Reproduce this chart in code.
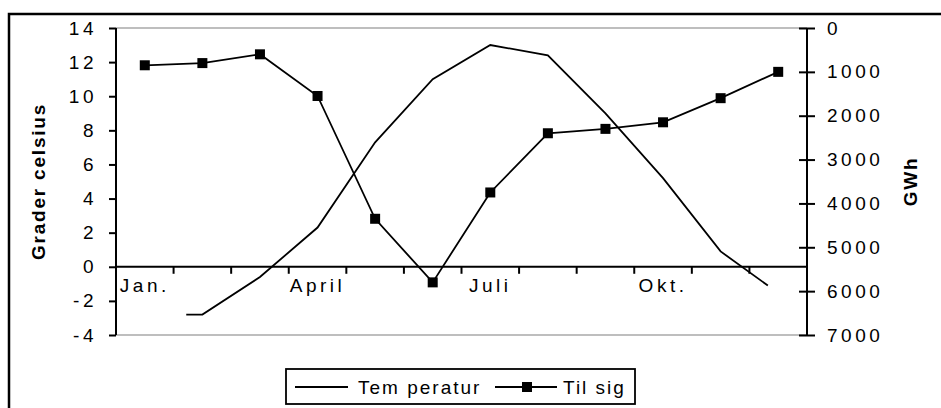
<!DOCTYPE html>
<html lang="da">
  <head>
    <meta charset="utf-8" />
    <script src="https://d3js.org/d3.v7.min.js" charset="utf-8"></script>
  </head>

  <style>
    body {
      margin: 0;
      background: #fff;
      font-family: 'Liberation Sans', Arial, sans-serif;
    }
    .tick text {
      font-size: 19px;
      letter-spacing: 3.5px;
      fill: #000;
    }
    .axis-title {
      font-size: 19px;
      font-weight: bold;
      letter-spacing: 1.8px;
    }
    .legend text {
      font-size: 19px;
      letter-spacing: 2px;
    }
  </style>

  <body>
    <div id="plot-container"></div>

    <script type="text/javascript">
      // data //-------------------------------------------------------

      var months = ['Jan.', 'Feb.', 'Mar.', 'April', 'Maj', 'Juni', 'Juli', 'Aug.', 'Sep.', 'Okt.', 'Nov.', 'Dec.'];
      var month_labels = ['Jan.', 'April', 'Juli', 'Okt.'];

      // tilsig, GWh (right axis, reversed)
      var tilsig = [850, 800, 600, 1550, 4350, 5800, 3750, 2400, 2300, 2150, 1600, 1000];

      // temperature, position in months from start of January
      var temp_pos = [1.22, 1.5, 2.5, 3.5, 4.5, 5.5, 6.5, 7.5, 8.5, 9.5, 10.5, 11.32];
      var temp_val = [-2.8, -2.8, -0.6, 2.3, 7.3, 11.0, 13.0, 12.4, 9.0, 5.2, 0.9, -1.1];

      var left_ticks = [-4, -2, 0, 2, 4, 6, 8, 10, 12, 14];
      var right_ticks = [0, 1000, 2000, 3000, 4000, 5000, 6000, 7000];

      // layout //-----------------------------------------------------
      var W = 941, H = 408;
      var plot_box = { left: 116, right: 807, top: 28, bottom: 335 };

      var svg = d3
        .select('#plot-container')
        .append('svg')
        .attr('width', W)
        .attr('height', H);

      // outer frame
      svg
        .append('rect')
        .attr('x', 9)
        .attr('y', 14)
        .attr('width', W)
        .attr('height', H)
        .attr('fill', 'none')
        .attr('stroke', '#000')
        .attr('stroke-width', 2.5);

      // scales
      var x_band = d3
        .scaleBand()
        .domain(months)
        .range([plot_box.left, plot_box.right])
        .padding(0);
      var x_pos = d3
        .scaleLinear()
        .domain([0, months.length])
        .range([plot_box.left, plot_box.right]);
      var y_left = d3
        .scaleLinear()
        .domain([-4, 14])
        .range([plot_box.bottom, plot_box.top]);
      var y_right = d3
        .scaleLinear()
        .domain([0, 7000])
        .range([plot_box.top, plot_box.bottom]);

      // plot area top / bottom grey edges
      svg
        .append('g')
        .selectAll('line')
        .data([plot_box.top, plot_box.bottom])
        .join('line')
        .attr('x1', plot_box.left)
        .attr('x2', plot_box.right)
        .attr('y1', (d) => d)
        .attr('y2', (d) => d)
        .attr('stroke', '#a8a8a8')
        .attr('stroke-width', 1.5);

      // left axis
      var g_left = svg
        .append('g')
        .attr('transform', 'translate(' + plot_box.left + ',0)')
        .call(
          d3
            .axisLeft(y_left)
            .tickValues(left_ticks)
            .tickSize(7)
            .tickPadding(12)
            .tickFormat((d) => String(d))
        );
      g_left.selectAll('line, path').attr('stroke', '#000').attr('stroke-width', 2);
      g_left.select('.domain').attr('d', 'M0,' + plot_box.top + 'V' + plot_box.bottom);
      g_left.selectAll('.tick text').attr('font-family', null).attr('font-size', null);

      // right axis (ticks cross the line)
      var g_right = svg
        .append('g')
        .attr('transform', 'translate(' + plot_box.right + ',0)')
        .call(
          d3
            .axisRight(y_right)
            .tickValues(right_ticks)
            .tickSize(8)
            .tickPadding(12)
            .tickFormat((d) => String(d))
        );
      g_right.selectAll('.tick line').attr('x1', -8);
      g_right.selectAll('line, path').attr('stroke', '#000').attr('stroke-width', 2);
      g_right.select('.domain').attr('d', 'M0,' + plot_box.top + 'V' + plot_box.bottom);
      g_right.selectAll('.tick text').attr('font-family', null).attr('font-size', null);

      // category axis on the zero line
      var zero_y = y_left(0);
      var g_x = svg
        .append('g')
        .attr('transform', 'translate(0,' + zero_y + ')');
      g_x
        .append('line')
        .attr('x1', plot_box.left)
        .attr('x2', plot_box.right)
        .attr('stroke', '#000')
        .attr('stroke-width', 2);
      g_x
        .selectAll('.xtick')
        .data(months)
        .join('line')
        .attr('class', 'xtick')
        .attr('x1', (d) => x_band(d) + x_band.bandwidth())
        .attr('x2', (d) => x_band(d) + x_band.bandwidth())
        .attr('y1', 0)
        .attr('y2', 7)
        .attr('stroke', '#000')
        .attr('stroke-width', 2);
      g_x
        .selectAll('.tick')
        .data(month_labels)
        .join('g')
        .attr('class', 'tick')
        .append('text')
        .attr('x', (d) => x_band(d) + x_band.bandwidth() / 2)
        .attr('y', 25)
        .attr('text-anchor', 'middle')
        .text((d) => d);

      // axis titles
      svg
        .append('text')
        .attr('class', 'axis-title')
        .attr('transform', 'translate(45,' + (plot_box.top + plot_box.bottom) / 2 + ') rotate(-90)')
        .attr('text-anchor', 'middle')
        .text('Grader celsius');
      svg
        .append('text')
        .attr('class', 'axis-title')
        .attr('transform', 'translate(917,' + (plot_box.top + plot_box.bottom) / 2 + ') rotate(-90)')
        .attr('text-anchor', 'middle')
        .text('GWh');

      // temperature line
      var temp_data = temp_pos.map((p, i) => ({ p: p, v: temp_val[i] }));
      svg
        .append('path')
        .datum(temp_data)
        .attr('fill', 'none')
        .attr('stroke', '#000')
        .attr('stroke-width', 1.8)
        .attr(
          'd',
          d3
            .line()
            .x((d) => x_pos(d.p))
            .y((d) => y_left(d.v))
        );

      // tilsig line + markers
      var tilsig_data = months.map((m, i) => ({ m: m, v: tilsig[i] }));
      var tx = (d) => x_band(d.m) + x_band.bandwidth() / 2;
      svg
        .append('path')
        .datum(tilsig_data)
        .attr('fill', 'none')
        .attr('stroke', '#000')
        .attr('stroke-width', 1.8)
        .attr(
          'd',
          d3
            .line()
            .x(tx)
            .y((d) => y_right(d.v))
        );
      svg
        .append('g')
        .selectAll('rect')
        .data(tilsig_data)
        .join('rect')
        .attr('x', (d) => tx(d) - 5)
        .attr('y', (d) => y_right(d.v) - 5)
        .attr('width', 10)
        .attr('height', 10)
        .attr('fill', '#000');

      // legend
      var legend = svg.append('g').attr('class', 'legend');
      legend
        .append('rect')
        .attr('x', 286)
        .attr('y', 369)
        .attr('width', 349)
        .attr('height', 35)
        .attr('fill', 'none')
        .attr('stroke', '#000')
        .attr('stroke-width', 1.8);
      legend
        .append('line')
        .attr('x1', 295)
        .attr('x2', 348)
        .attr('y1', 387)
        .attr('y2', 387)
        .attr('stroke', '#000')
        .attr('stroke-width', 1.8);
      legend
        .append('text')
        .attr('x', 358)
        .attr('y', 394)
        .text('Tem peratur');
      legend
        .append('line')
        .attr('x1', 495)
        .attr('x2', 557)
        .attr('y1', 387)
        .attr('y2', 387)
        .attr('stroke', '#000')
        .attr('stroke-width', 1.8);
      legend
        .append('rect')
        .attr('x', 522)
        .attr('y', 382)
        .attr('width', 10)
        .attr('height', 10)
        .attr('fill', '#000');
      legend
        .append('text')
        .attr('x', 563)
        .attr('y', 394)
        .text('Til sig');
    </script>
  </body>
</html>
